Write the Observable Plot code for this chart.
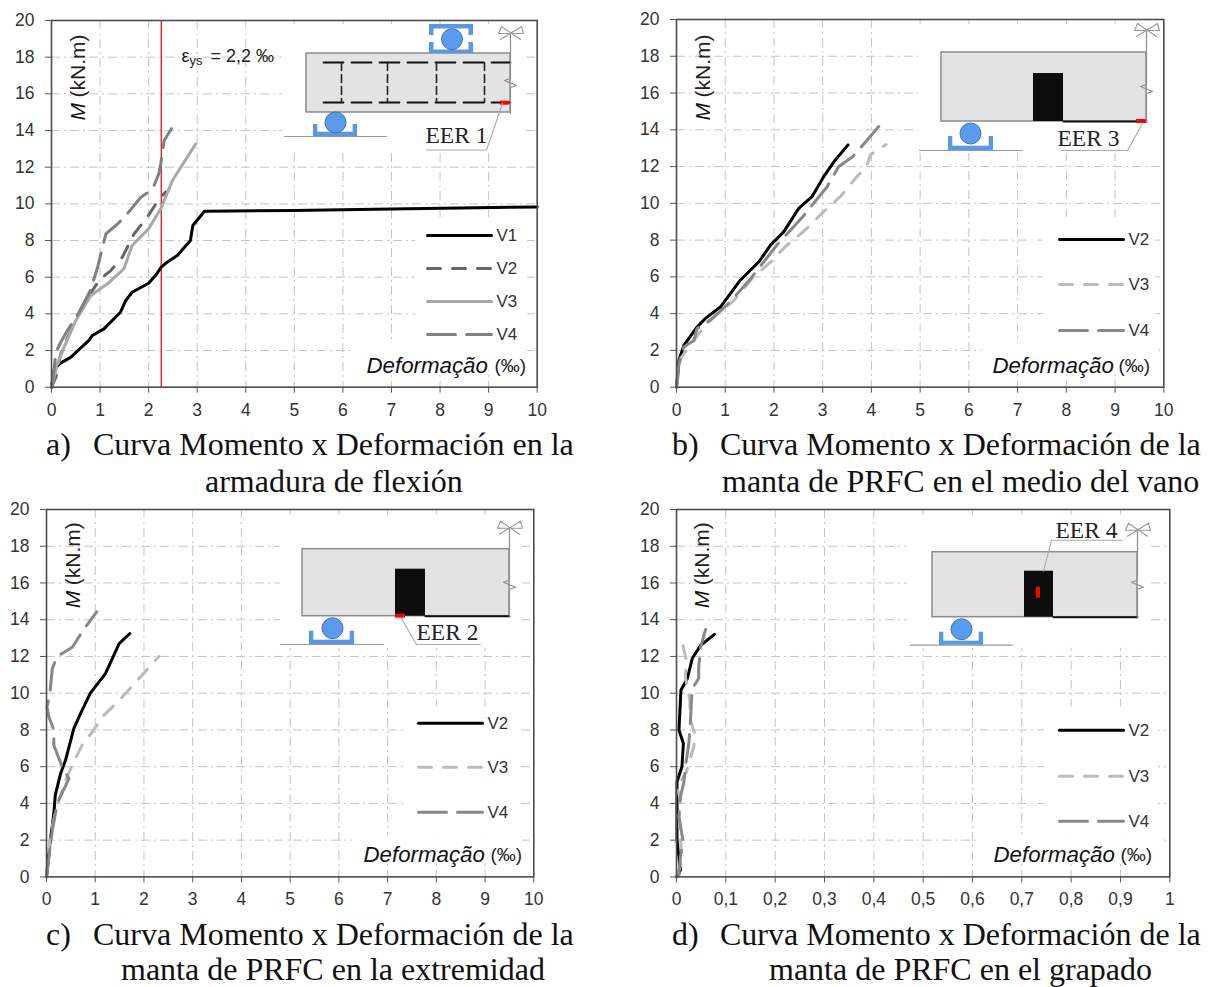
<!DOCTYPE html>
<html>
<head>
<meta charset="utf-8">
<script src="https://cdn.jsdelivr.net/npm/d3@7"></script>
<script src="https://cdn.jsdelivr.net/npm/@observablehq/plot@0.6"></script>
<style>
html,body{margin:0;padding:0;background:#fff}
#page{position:relative;width:1209px;height:987px;overflow:hidden}
#page svg{position:absolute;background:transparent}
.cap{position:absolute;font-family:"Liberation Serif",serif;font-size:32px;line-height:30px;color:#111;white-space:nowrap}
</style>
</head>
<body>
<div id="page"></div>
<script>
// ---- Panel a (armadura de flexión)
const aV1x=[0,0.06,0.16,0.4,0.77,0.84,1.08,1.42,1.53,1.66,2.0,2.14,2.26,2.38,2.59,2.86,2.91,3.15,5,7,10];
const aV1y=[0,1.0,1.27,1.64,2.55,2.82,3.18,4.09,4.73,5.18,5.67,6.09,6.55,6.82,7.18,8.0,8.82,9.6,9.64,9.72,9.83];
const aV2x=[0,0.09,0.19,0.33,0.53,0.8,1.0,1.22,1.46,1.7,1.97,2.2,2.35];
const aV2y=[0,0.55,1.8,2.7,3.8,5.1,5.9,6.36,7.1,8.36,9.27,10.2,10.65];
const aV3x=[0,0.12,0.26,0.5,0.81,1.15,1.49,1.66,2.0,2.25,2.49,2.97];
const aV3y=[0,1.27,2.18,3.64,5.0,5.64,6.45,7.73,8.64,9.73,11.27,13.27];
const aV4x=[0,0.05,0.09,0.19,0.33,0.57,0.8,0.95,1.12,1.36,1.53,1.84,2.08,2.21,2.25,2.32,2.47];
const aV4y=[0,0.9,1.9,2.45,3.1,4.1,5.27,6.55,8.36,8.9,9.36,10.36,10.8,11.64,12.2,13.45,14.1];
// ---- Panel b (medio del vano)
const bV2x=[0,0.05,0.15,0.42,0.59,0.9,1.31,1.69,1.93,2.2,2.51,2.78,3.02,3.26,3.52];
const bV2y=[0,1.45,2.27,3.27,3.73,4.36,5.82,6.82,7.73,8.45,9.73,10.36,11.45,12.36,13.18];
const bV3x=[0,0.08,0.36,0.63,1.17,1.58,1.93,2.23,2.64,2.98,3.36,3.7,3.9,3.98,4.3];
const bV3y=[0,1.55,2.55,3.55,4.7,6.0,6.8,7.64,8.55,9.45,10.36,11.45,12.0,12.64,13.2];
const bV4x=[0,0.05,0.15,0.36,0.42,0.7,1.1,1.52,2.06,2.6,3.09,3.33,3.62,3.8,4.15];
const bV4y=[0,1.27,2.18,2.55,3.18,3.64,4.64,5.9,7.73,9.3,10.9,12.0,12.55,13.09,14.18];
// ---- Panel c (extremidad)
const cV2x=[0,0.07,0.15,0.18,0.29,0.39,0.56,0.7,0.9,1.21,1.49,1.71];
const cV2y=[0,1.8,3.45,4.45,5.63,6.35,8.07,8.9,10.0,11.07,12.7,13.25];
const cV3x=[0,0.08,0.22,0.39,0.56,0.73,0.97,1.14,1.49,1.93,2.31];
const cV3y=[0,2.36,3.9,5.26,6.26,7.17,8.0,8.7,9.6,10.9,12.0];
const cV4x=[0,0.12,0.22,0.46,0.32,0.15,0.15,0.05,0.01,0.07,0.12,0.22,0.53,0.77,1.03];
const cV4y=[0,2.54,4.0,5.35,6.0,7.17,8.0,8.7,9.25,10.0,11.35,12.0,12.5,13.5,14.43];
// ---- Panel d (grapado)
const dV2x=[0,0.008,0.005,0.001,0.001,0.011,0.014,0.005,0.009,0.022,0.032,0.049,0.077];
const dV2y=[0,0.36,1.09,2.0,5.17,6.0,7.26,8.0,10.16,10.8,11.9,12.6,13.2];
const dV3x=[0,0.011,0.005,0.008,0.001,0.02,0.035,0.037,0.028,0.027,0.018,0.02,0.015,0.009];
const dV3y=[0,0.9,3.27,4.17,4.9,5.7,7.08,7.8,8.53,9.6,10.9,11.8,12.34,13.16];
const dV4x=[0,0.005,0.008,0.013,0.005,0.008,0.015,0.018,0.025,0.028,0.03,0.032,0.045,0.045,0.049,0.059];
const dV4y=[0,0.1,1.09,2.0,3.27,4.36,5.17,6.0,7.26,8.35,9.44,10.25,10.8,11.43,12.52,13.47];

const yTicks=[0,2,4,6,8,10,12,14,16,18,20];
const xTicks10=[0,1,2,3,4,5,6,7,8,9,10];
const xTicks1=[0,0.1,0.2,0.3,0.4,0.5,0.6,0.7,0.8,0.9,1];
const yieldStrain=2.26;

const solid=null, shortDash="13,12", longDash="28,11";
const FONT='"Liberation Sans",Arial,sans-serif';
const SERIF='"Liberation Serif",serif';
const zip=(xs,ys)=>xs.map((x,i)=>({x,y:ys[i]}));

const panels=[
 {name:"a",x0:51,x1:536.7,y1:20,y0:386.7,xmax:10,ticks:xTicks10,
  series:[
   {n:"V1",d:zip(aV1x,aV1y),c:"#000",dash:solid},
   {n:"V2",d:zip(aV2x,aV2y),c:"#666",dash:shortDash},
   {n:"V3",d:zip(aV3x,aV3y),c:"#a8a8a8",dash:solid},
   {n:"V4",d:zip(aV4x,aV4y),c:"#808080",dash:longDash}],
  legX:[427,491],legY:[235,268,301,334],
  mx:78,mBottom:120,defX:366,defY:365,pctX:494,
  boxes:[[282,523,24,153],[415,527,217,343],[353,527,343,370]],
  beam:[306,510,53,112],frp:null,red:[500,509,100.7,104.7],
  breakX:510,breakTop:32,zig:78,
  sup:{cx:335,cy:122,base:[313,357,131.7,136],arm:[124,136],ground:[284,386,136]},
  topSup:true,rebar:true,
  eer:{t:"EER 1",x:425,y:143,leader:[[426,149.5],[486,149.5],[502,103]]}},
 {name:"b",x0:676,x1:1163.3,y1:19,y0:386.7,xmax:10,ticks:xTicks10,
  series:[
   {n:"V2",d:zip(bV2x,bV2y),c:"#000",dash:solid},
   {n:"V3",d:zip(bV3x,bV3y),c:"#bbb",dash:shortDash},
   {n:"V4",d:zip(bV4x,bV4y),c:"#888",dash:longDash}],
  legX:[1059,1123],legY:[239,284,330],
  mx:702.5,mBottom:120,defX:992,defY:365,pctX:1118,
  boxes:[[918,1160,24,153],[1043,1155,217,343],[982,1158,343,370]],
  beam:[941,1146,52,121],frp:[1033,1063,73,121],red:[1136,1146,119,123],
  breakX:1146,breakTop:29,zig:84,
  sup:{cx:970,cy:133,base:[948,993,145.7,150],arm:[136,150],ground:[919,1022,150]},
  eer:{t:"EER 3",x:1057,y:146,leader:[[1061,150],[1127,150],[1142,122.7]]}},
 {name:"c",x0:46,x1:533.3,y1:509.3,y0:876.7,xmax:10,ticks:xTicks10,
  series:[
   {n:"V2",d:zip(cV2x,cV2y),c:"#000",dash:solid},
   {n:"V3",d:zip(cV3x,cV3y),c:"#bbb",dash:shortDash},
   {n:"V4",d:zip(cV4x,cV4y),c:"#888",dash:longDash}],
  legX:[418,482],legY:[723,767,812],
  mx:72.5,mBottom:608,defX:363,defY:855,pctX:490,
  boxes:[[280,522,515,648],[407,520,707,835],[352,522,835,860]],
  beam:[302,509,549,616],frp:[395,425,569,616],red:[395,405,614,618],
  breakX:509,breakTop:527,zig:580,
  sup:{cx:332,cy:628,base:[309,354,640,644.3],arm:[631,644],ground:[280,383,644.3]},
  eer:{t:"EER 2",x:416,y:640,leader:[[401,618],[416,644.3],[480,644.3]]}},
 {name:"d",x0:676,x1:1169.3,y1:509.3,y0:876.7,xmax:1,ticks:xTicks1,comma:true,
  series:[
   {n:"V2",d:zip(dV2x,dV2y),c:"#000",dash:solid},
   {n:"V3",d:zip(dV3x,dV3y),c:"#bbb",dash:shortDash},
   {n:"V4",d:zip(dV4x,dV4y),c:"#888",dash:longDash}],
  legX:[1059,1123],legY:[730,776,821],
  mx:702,mBottom:608,defX:993,defY:855,pctX:1120,
  boxes:[[907,1150,515,648],[1044,1158,707,835],[977,1160,835,860]],
  beam:[932,1137,552,617],frp:[1024,1053,571,617],red:[1036,1040,587,598],
  breakX:1137,breakTop:529,zig:580,
  sup:{cx:961,cy:629,base:[939,983,641,645],arm:[632,645],ground:[910,1012,645]},
  eer:{t:"EER 4",x:1055,y:538,leader:[[1043,571],[1051,540],[1122,540]]}}
];

const captions=[
 ["a)",46,429],["Curva Momento x Deformación en la",93,429],["armadura de flexión",205,466],
 ["b)",672,429],["Curva Momento x Deformación de la",720,429],["manta de PRFC en el medio del vano",722,466],
 ["c)",46,919],["Curva Momento x Deformación de la",93,919],["manta de PRFC en la extremidad",121,954],
 ["d)",672,919],["Curva Momento x Deformación de la",720,919],["manta de PRFC en el grapado",769,954]
];

const page=document.getElementById("page");
const ML=50,MR=34,MT=10,MB=34;

function build(p){
 const fx=px=>(px-p.x0)/(p.x1-p.x0)*p.xmax;
 const fy=py=>(p.y0-py)/(p.y0-p.y1)*20;
 const pts=a=>a.map(([x,y])=>({x:fx(x),y:fy(y)}));
 const rect=(r,o)=>Plot.rect([0],{x1:fx(r[0]),x2:fx(r[1]),y1:fy(r[3]),y2:fy(r[2]),...o});
 const poly=(a,o)=>Plot.line(pts(a),{x:"x",y:"y",...o});
 const txt=(s,px,py,o)=>Plot.text([s],{x:fx(px),y:fy(py),text:d=>d,textAnchor:"start",fill:"#222",...o});
 const marks=[];
 const gridStyle={stroke:"#c4c4c4",strokeOpacity:1,strokeWidth:1,strokeDasharray:"9,4,2,4"};
 marks.push(Plot.gridX(p.ticks.slice(1,-1),gridStyle));
 marks.push(Plot.gridY(yTicks.slice(1,-1),gridStyle));
 for(const b of p.boxes) marks.push(rect(b,{fill:"#fff"}));

 // schematic
 const grey="#8c8c8c", blue="#5a97e6";
 const [bx1,bx2,by1,by2]=p.beam;
 marks.push(rect(p.beam,{fill:"#e3e3e3",stroke:grey,strokeWidth:1.5}));
 if(p.frp){
  marks.push(rect(p.frp,{fill:"#0d0d0d"}));
  marks.push(poly([[p.frp[1],by2],[bx2,by2]],{stroke:"#111",strokeWidth:2}));
 }
 if(p.rebar){
  const lx=323,rx=510;
  for(const ry of [62,102]) marks.push(poly([[lx,ry],[rx,ry]],{stroke:"#111",strokeWidth:1.8,strokeDasharray:"20,8"}));
  for(const vx of [341,387,436,484]) marks.push(poly([[vx,62],[vx,102]],{stroke:"#222",strokeWidth:1.6,strokeDasharray:"8,4"}));
 }
 marks.push(rect(p.red,{fill:"#f00"}));
 const X=p.breakX,T=p.breakTop,Z=p.zig;
 marks.push(poly([[X,T],[X,Z],[X-6,Z+2],[X+6,Z+7],[X,Z+9],[X,by2+1]],{stroke:"#8f8f8f",strokeWidth:1.2}));
 marks.push(poly([[X-10,T+7],[X+11,T-6],[X+13,T+1],[X-12,T+1],[X-9,T-6],[X+10,T+7]],{stroke:"#999",strokeWidth:1.1}));
 const s=p.sup;
 marks.push(poly([[s.ground[0],s.ground[2]],[s.ground[1],s.ground[2]]],{stroke:"#999",strokeWidth:1.2}));
 marks.push(rect(s.base,{fill:blue}));
 marks.push(rect([s.base[0],s.base[0]+4.3,s.arm[0],s.arm[1]],{fill:blue}));
 marks.push(rect([s.base[1]-4.3,s.base[1],s.arm[0],s.arm[1]],{fill:blue}));
 marks.push(Plot.dot([0],{x:fx(s.cx),y:fy(s.cy),r:10.5,fill:"#5b9bef",stroke:"#44719f",strokeWidth:1}));
 if(p.topSup){
  marks.push(rect([429,473,24,28.5],{fill:blue}));
  marks.push(rect([429,473,49.5,53],{fill:blue}));
  marks.push(rect([429,433.5,24,35],{fill:blue}));
  marks.push(rect([468.5,473,24,35],{fill:blue}));
  marks.push(rect([429,433.5,42,53],{fill:blue}));
  marks.push(rect([468.5,473,42,53],{fill:blue}));
  marks.push(Plot.dot([0],{x:fx(451.5),y:fy(38.7),r:10.5,fill:"#5b9bef",stroke:"#44719f",strokeWidth:1}));
 }
 marks.push(poly(p.eer.leader,{stroke:"#aaa",strokeWidth:1.1}));
 marks.push(txt(p.eer.t,p.eer.x,p.eer.y-8,{fontFamily:SERIF,fontSize:23.5,fill:"#222"}));

 // legend
 p.series.forEach((sr,i)=>{
  const ly=p.legY[i];
  marks.push(poly([[p.legX[0],ly],[p.legX[1],ly]],{stroke:sr.c,strokeWidth:3,strokeDasharray:sr.dash||undefined}));
  marks.push(txt(sr.n,p.legX[1]+5,ly,{fontSize:17,fill:"#333"}));
 });

 // reference line
 if(p.name==="a"){
  marks.push(Plot.ruleX([yieldStrain],{stroke:"#f01010",strokeWidth:1.3}));
  marks.push(txt("ε",181,56,{fontSize:18}));
  marks.push(txt("ys",189,60,{fontSize:13}));
  marks.push(txt("= 2,2 ‰",210,56,{fontSize:18}));
 }

 // series
 for(const sr of p.series){
  marks.push(Plot.line(sr.d,{x:"x",y:"y",stroke:sr.c,strokeWidth:3,strokeLinejoin:"round",strokeDasharray:sr.dash||undefined}));
 }

 // axis titles
 marks.push(txt("M",p.mx,p.mBottom,{rotate:-90,fontStyle:"italic",fontSize:21,fill:"#111"}));
 marks.push(txt("(kN.m)",p.mx,p.mBottom-23,{rotate:-90,fontSize:21,fill:"#222"}));
 marks.push(txt("Deformação",p.defX,p.defY,{fontStyle:"italic",fontSize:22.3,fill:"#111"}));
 marks.push(txt("(‰)",p.pctX,p.defY,{fontSize:19,fill:"#222"}));

 // axes
 marks.push(Plot.axisX(p.ticks,{tickSize:6,tickPadding:10,stroke:"#555",fill:"#333",label:null,
   tickFormat:p.comma?(d=>String(d).replace(".",",")):(d=>String(d))}));
 marks.push(Plot.axisY(yTicks,{tickSize:6,tickPadding:11,stroke:"#555",fill:"#333",label:null,tickFormat:d=>String(d)}));
 marks.push(Plot.frame({stroke:"#4d4d4d",strokeWidth:1.6}));

 const w=p.x1-p.x0+ML+MR, h=p.y0-p.y1+MT+MB;
 const svg=Plot.plot({
  width:w,height:h,marginLeft:ML,marginRight:MR,marginTop:MT,marginBottom:MB,
  x:{domain:[0,p.xmax],type:"linear"},
  y:{domain:[0,20],type:"linear"},
  style:{fontFamily:FONT,fontSize:"17.5px",background:"transparent",overflow:"visible"},
  marks
 });
 svg.style.left=(p.x0-ML)+"px";
 svg.style.top=(p.y1-MT)+"px";
 page.appendChild(svg);
}
panels.forEach(build);

for(const [t,x,y] of captions){
 const d=document.createElement("div");
 d.className="cap";d.textContent=t;d.style.left=x+"px";d.style.top=y+"px";
 page.appendChild(d);
}
</script>
</body>
</html>
